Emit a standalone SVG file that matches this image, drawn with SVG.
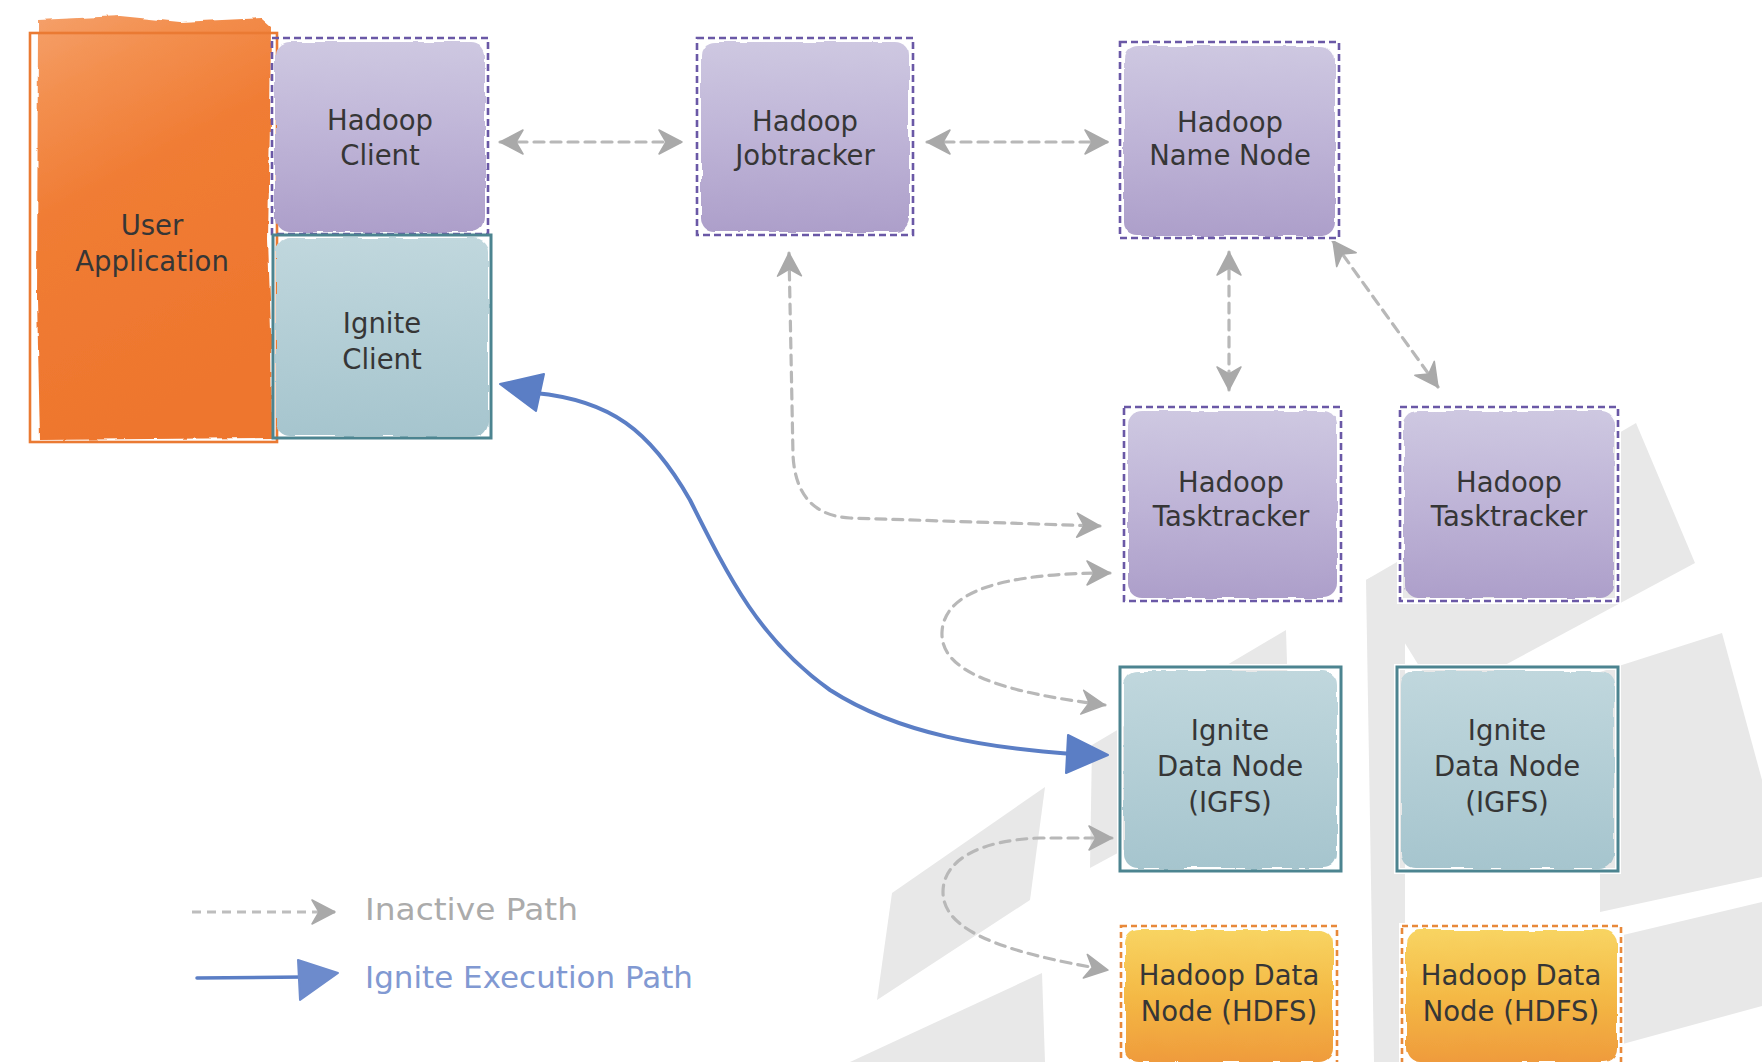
<svg xmlns="http://www.w3.org/2000/svg" width="1762" height="1062" viewBox="0 0 1762 1062">
  <style>
    .lbl { font-family: "DejaVu Sans", "Liberation Sans", sans-serif; font-size: 27.5px; fill: #363636; text-anchor: middle; }
    .legend { font-family: "DejaVu Sans", "Liberation Sans", sans-serif; font-size: 31px; }
    .wm { fill: #e8e8e8; }
    .hborder { fill: none; stroke: #6a58a6; stroke-width: 2.6; stroke-dasharray: 7 4; }
    .iborder { fill: none; stroke: #4c8490; stroke-width: 3; }
    .dborder { fill: none; stroke: #e8893a; stroke-width: 2.6; stroke-dasharray: 6 4; }
    .halo { fill: none; stroke: #ffffff; stroke-width: 6; }
    .inactive { fill: none; stroke: #b8b8b8; stroke-width: 3.2; stroke-dasharray: 10 7; stroke-linecap: round; marker-start: url(#chev); marker-end: url(#chev); }
    .exec { fill: none; stroke: #5b7ec5; stroke-width: 4; stroke-linecap: round; }
  </style>
  <defs>
    <linearGradient id="gPurple" x1="0" y1="0" x2="0" y2="1">
      <stop offset="0" stop-color="#cec8e1"/>
      <stop offset="0.45" stop-color="#c0b6d8"/>
      <stop offset="1" stop-color="#ad9fca"/>
    </linearGradient>
    <linearGradient id="gTeal" x1="0" y1="0" x2="0" y2="1">
      <stop offset="0" stop-color="#c0d7dd"/>
      <stop offset="1" stop-color="#a6c5ce"/>
    </linearGradient>
    <linearGradient id="gYellow" x1="0" y1="0" x2="0" y2="1">
      <stop offset="0" stop-color="#f8d462"/>
      <stop offset="0.5" stop-color="#f4b945"/>
      <stop offset="1" stop-color="#ef9b3c"/>
    </linearGradient>
    <linearGradient id="gOrange" x1="0" y1="0" x2="0.3" y2="1">
      <stop offset="0" stop-color="#f5a06a"/>
      <stop offset="0.18" stop-color="#f39050"/>
      <stop offset="0.45" stop-color="#f07c34"/>
      <stop offset="1" stop-color="#ee762d"/>
    </linearGradient>
    <!-- painterly, slightly ragged edge for the washes -->
    <filter id="wash" x="-5%" y="-5%" width="110%" height="110%">
      <feTurbulence type="fractalNoise" baseFrequency="0.05" numOctaves="2" seed="7" result="n"/>
      <feDisplacementMap in="SourceGraphic" in2="n" scale="5" xChannelSelector="R" yChannelSelector="G"/>
    </filter>
    <marker id="chev" markerUnits="userSpaceOnUse" markerWidth="28" markerHeight="28" viewBox="0 0 28 28" refX="26" refY="14" orient="auto-start-reverse">
      <path d="M3,2 L26,14 L3,26 L10,14 Z" fill="#a9a9a9" stroke="#a9a9a9" stroke-width="1.5" stroke-linejoin="round"/>
    </marker>
  </defs>

  <rect width="1762" height="1062" fill="#ffffff"/>

  <!-- faint logo watermark -->
  <g id="watermark">
    <polygon class="wm" points="1366,580 1636,423 1695,563 1440,700"/>
    <polygon class="wm" points="1366,580 1405,560 1405,1062 1374,1062"/>
    <polygon class="wm" points="1600,672 1722,633 1762,780 1762,877 1600,912"/>
    <polygon class="wm" points="1619,936 1762,902 1762,1006 1619,1045"/>
    <polygon class="wm" points="1286,630 1092,745 1090,868 1290,760"/>
    <polygon class="wm" points="1045,787 892,893 877,1000 1030,900"/>
    <polygon class="wm" points="1042,973 850,1062 1045,1062"/>
  </g>

  <!-- connectors -->
  <g id="connectors">
    <path class="inactive" d="M500,142 L682,142"/>
    <path class="inactive" d="M927,142 L1108,142"/>
    <path class="inactive" d="M1229,252 L1229,390"/>
    <path class="inactive" d="M1333,241 L1438,387"/>
    <path class="inactive" d="M789,253 L793,455 Q796,515 850,518 L1100,526"/>
    <path class="inactive" d="M1110,573 C1000,573 944,592 942,632 C940,672 1000,692 1105,705"/>
    <path class="inactive" d="M1112,838 L1040,838 C980,840 943,860 943,892 C943,930 1000,952 1108,970"/>
    <!-- execution path -->
    <path class="exec" d="M535,393 C610,400 650,430 690,500 C730,580 760,640 830,690 C900,735 990,748 1072,754"/>
    <polygon points="500,384 544,374 536,411" fill="#5b7ec5" stroke="#5b7ec5" stroke-width="2" stroke-linejoin="round"/>
    <polygon points="1108,755 1068,735 1066,773" fill="#5b7ec5" stroke="#5b7ec5" stroke-width="2" stroke-linejoin="round"/>
  </g>

  <!-- nodes -->
  <g id="user-application">
    <path d="M38,20 L120,16 L180,22 L262,18 L271,26 L270,120 L268,240 L271,330 L272,438 L40,440 L37,300 Z" fill="url(#gOrange)" filter="url(#wash)"/>
    <rect x="30" y="33" width="247" height="409" fill="none" stroke="#ea7a33" stroke-width="2.6"/>
    <text class="lbl" x="152" y="235">User</text>
    <text class="lbl" x="152" y="271">Application</text>
  </g>

  <g id="hadoop-client">
    <rect x="275" y="42" width="210" height="190" rx="14" fill="url(#gPurple)" filter="url(#wash)"/>
    <rect class="hborder" x="272" y="38" width="216" height="196"/>
    <text class="lbl" x="380" y="130">Hadoop</text>
    <text class="lbl" x="380" y="165">Client</text>
  </g>

  <g id="ignite-client">
    <rect x="276" y="238" width="212" height="198" rx="14" fill="url(#gTeal)" filter="url(#wash)"/>
    <rect class="iborder" x="273" y="235" width="218" height="203"/>
    <text class="lbl" x="382" y="333">Ignite</text>
    <text class="lbl" x="382" y="369">Client</text>
  </g>

  <g id="hadoop-jobtracker">
    <rect class="halo" x="697" y="38" width="216" height="197"/>
    <rect x="701" y="42" width="208" height="190" rx="14" fill="url(#gPurple)" filter="url(#wash)"/>
    <rect class="hborder" x="697" y="38" width="216" height="197"/>
    <text class="lbl" x="805" y="131">Hadoop</text>
    <text class="lbl" x="805" y="165">Jobtracker</text>
  </g>

  <g id="hadoop-name-node">
    <rect class="halo" x="1120" y="42" width="219" height="196"/>
    <rect x="1124" y="46" width="211" height="190" rx="14" fill="url(#gPurple)" filter="url(#wash)"/>
    <rect class="hborder" x="1120" y="42" width="219" height="196"/>
    <text class="lbl" x="1230" y="132">Hadoop</text>
    <text class="lbl" x="1230" y="165">Name Node</text>
  </g>

  <g id="hadoop-tasktracker-1">
    <rect class="halo" x="1124" y="407" width="217" height="194"/>
    <rect x="1128" y="411" width="209" height="187" rx="14" fill="url(#gPurple)" filter="url(#wash)"/>
    <rect class="hborder" x="1124" y="407" width="217" height="194"/>
    <text class="lbl" x="1231" y="492">Hadoop</text>
    <text class="lbl" x="1231" y="526">Tasktracker</text>
  </g>

  <g id="hadoop-tasktracker-2">
    <rect class="halo" x="1400" y="407" width="218" height="194"/>
    <rect x="1404" y="411" width="210" height="187" rx="14" fill="url(#gPurple)" filter="url(#wash)"/>
    <rect class="hborder" x="1400" y="407" width="218" height="194"/>
    <text class="lbl" x="1509" y="492">Hadoop</text>
    <text class="lbl" x="1509" y="526">Tasktracker</text>
  </g>

  <g id="ignite-data-node-1">
    <rect class="halo" x="1120" y="667" width="221" height="204"/>
    <rect x="1124" y="671" width="213" height="197" rx="14" fill="url(#gTeal)" filter="url(#wash)"/>
    <rect class="iborder" x="1120" y="667" width="221" height="204"/>
    <text class="lbl" x="1230" y="740">Ignite</text>
    <text class="lbl" x="1230" y="776">Data Node</text>
    <text class="lbl" x="1230" y="812">(IGFS)</text>
  </g>

  <g id="ignite-data-node-2">
    <rect class="halo" x="1397" y="667" width="221" height="204"/>
    <rect x="1401" y="671" width="213" height="197" rx="14" fill="url(#gTeal)" filter="url(#wash)"/>
    <rect class="iborder" x="1397" y="667" width="221" height="204"/>
    <text class="lbl" x="1507" y="740">Ignite</text>
    <text class="lbl" x="1507" y="776">Data Node</text>
    <text class="lbl" x="1507" y="812">(IGFS)</text>
  </g>

  <g id="hadoop-data-node-1">
    <rect class="halo" x="1121" y="926" width="216" height="140"/>
    <rect x="1125" y="930" width="208" height="132" rx="14" fill="url(#gYellow)" filter="url(#wash)"/>
    <rect class="dborder" x="1121" y="926" width="216" height="140"/>
    <text class="lbl" x="1229" y="985">Hadoop Data</text>
    <text class="lbl" x="1229" y="1021">Node (HDFS)</text>
  </g>

  <g id="hadoop-data-node-2">
    <rect class="halo" x="1402" y="926" width="219" height="140"/>
    <rect x="1406" y="930" width="211" height="132" rx="14" fill="url(#gYellow)" filter="url(#wash)"/>
    <rect class="dborder" x="1402" y="926" width="219" height="140"/>
    <text class="lbl" x="1511" y="985">Hadoop Data</text>
    <text class="lbl" x="1511" y="1021">Node (HDFS)</text>
  </g>

  <!-- legend -->
  <g id="legend">
    <path d="M192,912 L335,912" fill="none" stroke="#bdbdbd" stroke-width="3" stroke-dasharray="9 6" marker-end="url(#chev)"/>
    <text class="legend" x="365" y="920" fill="#ababab" textLength="213" lengthAdjust="spacingAndGlyphs">Inactive Path</text>
    <path d="M197,978 L304,977" fill="none" stroke="#5b7ec5" stroke-width="3.5" stroke-linecap="round"/>
    <polygon points="298,960 338,973 300,1000" fill="#6d8bcc" stroke="#6d8bcc" stroke-width="2" stroke-linejoin="round"/>
    <text class="legend" x="365" y="988" fill="#8199d2" textLength="328" lengthAdjust="spacingAndGlyphs">Ignite Execution Path</text>
  </g>
</svg>
